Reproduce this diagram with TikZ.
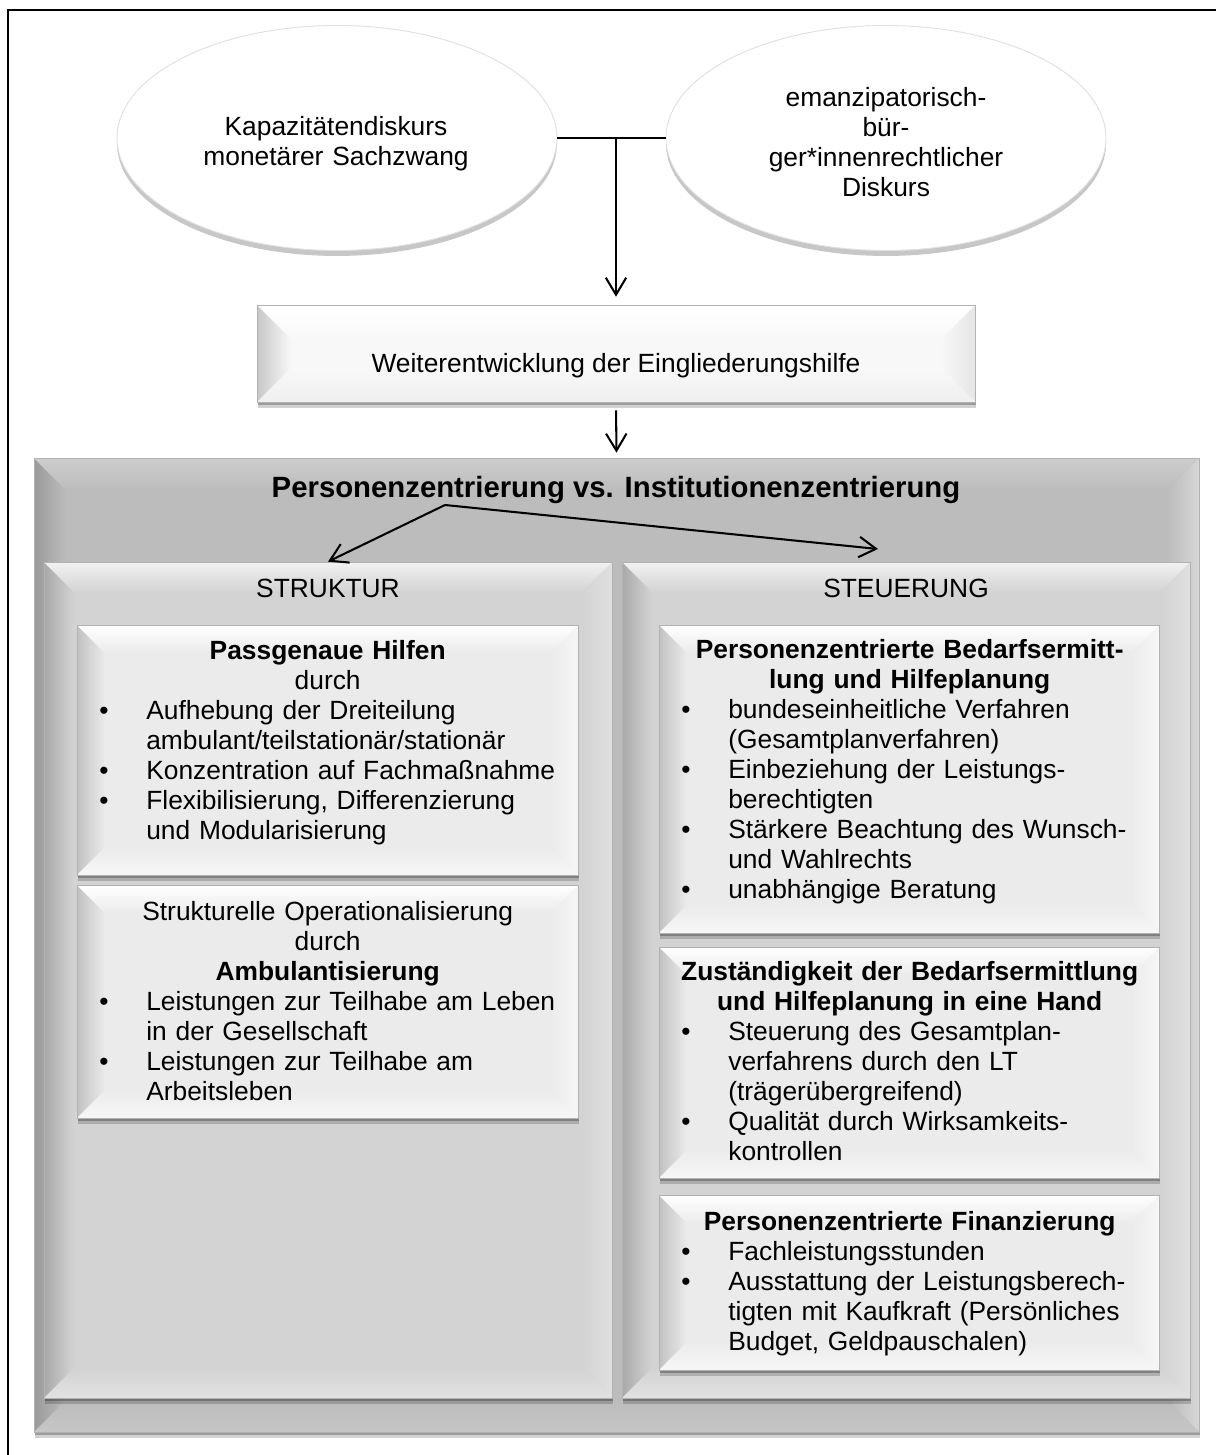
\documentclass[tikz,border=0pt]{standalone}
\usepackage{fontspec}
\setmainfont{Liberation Sans}
\usetikzlibrary{shapes.geometric,arrows.meta,shadows,fit}

% bevel colours: face / top / left / right / bottom
\definecolor{wFace}{HTML}{F8F8F8}\definecolor{wTop}{HTML}{FFFFFF}
\definecolor{wLeft}{HTML}{C8C8C8}\definecolor{wRight}{HTML}{E6E6E6}\definecolor{wBot}{HTML}{EFEFEF}
\definecolor{gFace}{HTML}{BCBCBC}\definecolor{gTop}{HTML}{CDCDCD}
\definecolor{gLeft}{HTML}{9A9A9A}\definecolor{gRight}{HTML}{D6D6D6}\definecolor{gBot}{HTML}{C6C6C6}
\definecolor{cFace}{HTML}{D3D3D3}\definecolor{cTop}{HTML}{F2F2F2}
\definecolor{cLeft}{HTML}{A9A9A9}\definecolor{cRight}{HTML}{E0E0E0}\definecolor{cBot}{HTML}{E2E2E2}
\definecolor{iFace}{HTML}{EBEBEB}\definecolor{iTop}{HTML}{FFFFFF}
\definecolor{iLeft}{HTML}{C2C2C2}\definecolor{iRight}{HTML}{F6F6F6}\definecolor{iBot}{HTML}{F7F7F7}

\pgfdeclareradialshading{ovalshade}{\pgfpoint{5bp}{9bp}}{%
  color(0bp)=(white); color(30bp)=(white); color(40bp)=(black!4);
  color(46bp)=(black!11); color(50bp)=(black!24)}

% four bevel faces painted inside a rectangular node
\newcommand\bevelpaint[6]{%
  \coordinate (pNW) at (path picture bounding box.north west);
  \coordinate (pNE) at (path picture bounding box.north east);
  \coordinate (pSW) at (path picture bounding box.south west);
  \coordinate (pSE) at (path picture bounding box.south east);
  \shade[left color=#4, right color=#2] (pNW) -- ([shift={(#1,-#1)}]pNW)
     -- ([shift={(#1,#1)}]pSW) -- (pSW) -- cycle;
  \shade[left color=#2, right color=#5] (pNE) -- (pSE)
     -- ([shift={(-#1,#1)}]pSE) -- ([shift={(-#1,-#1)}]pNE) -- cycle;
  \shade[top color=#3, bottom color=#2] (pNW) -- (pNE)
     -- ([shift={(-#1,-#1)}]pNE) -- ([shift={(#1,-#1)}]pNW) -- cycle;
  \shade[top color=#2, bottom color=#6] (pSW) -- ([shift={(#1,#1)}]pSW)
     -- ([shift={(-#1,#1)}]pSE) -- (pSE) -- cycle;
}

% bullet list with a fixed hanging indent
\newenvironment{pointlist}{%
  \list{\textbullet}{%
    \setlength\leftmargin{30.3pt}\setlength\labelsep{0pt}%
    \setlength\labelwidth{30.3pt}\setlength\itemindent{0pt}%
    \setlength\itemsep{0pt}\setlength\parsep{0pt}%
    \setlength\topsep{0pt}\setlength\partopsep{0pt}%
    \def\makelabel##1{\hbox to \labelwidth{\hspace{9.6pt}##1\hfil}}}%
  \raggedright}{\endlist}

\newcommand\bodyfont{\fontsize{11.6}{13.2}\selectfont}

\tikzset{
  bevel/.style n args={6}{rectangle, inner sep=0pt, fill=#2, draw=black!30,
    line width=0.3pt, path picture={\bevelpaint{#1}{#2}{#3}{#4}{#5}{#6}}},
  boxshadow/.style={drop shadow={shadow xshift=0.5pt, shadow yshift=-2.6pt,
    opacity=0.18, fill=black}, drop shadow={shadow xshift=0.3pt,
    shadow yshift=-1.4pt, opacity=0.25, fill=black}},
  wbox/.style={bevel={15pt}{wFace}{wTop}{wLeft}{wRight}{wBot}, boxshadow},
  gbox/.style={bevel={14pt}{gFace}{gTop}{gLeft}{gRight}{gBot}, boxshadow},
  cbox/.style={bevel={13pt}{cFace}{cTop}{cLeft}{cRight}{cBot}, boxshadow},
  ibox/.style={bevel={12.3pt}{iFace}{iTop}{iLeft}{iRight}{iBot}, boxshadow},
  oval/.style={ellipse, inner sep=0pt, minimum width=193.6pt,
    minimum height=99pt, shade, shading=ovalshade, draw=black!12,
    line width=0.4pt, drop shadow={shadow xshift=0pt, shadow yshift=-2.4pt,
    opacity=0.22, fill=black}},
  ovaltext/.style={anchor=base, inner sep=0pt, text width=190pt,
    align=center, font=\bodyfont},
  label/.style={anchor=base, inner sep=0pt, font=\bodyfont},
  boxtext/.style={anchor=base west, inner sep=0pt, text width=220.2pt,
    font=\bodyfont},
  conn/.style={line width=0.9pt,
    -{Straight Barb[length=7.5pt,width=9pt,line width=0.9pt]}},
  plain/.style={line width=0.9pt}
}

\begin{document}
\begin{tikzpicture}[x=0.44pt, y=-0.44pt]
\useasboundingbox (0,0) rectangle (1216,1455);
\fill[white] (0,0) rectangle (1216,1455);
% page frame: only its top and left edges lie inside the sheet
\draw[line width=0.9pt] (8,1455) -- (8,10) -- (1216,10);

% two discourses
\node[oval] (oval1) at (337,138) {};
\node[oval] (oval2) at (886,138) {};
\node[ovaltext] (oval1txt) at (336,136) {Kapazitätendiskurs\\monetärer Sachzwang};
\node[ovaltext] (oval2txt) at (886,107)
  {emanzipatorisch-\\bür-\\ger*innenrechtlicher\\Diskurs};

% development of integration assistance
\node[wbox, fit={(257,305) (975,402)}] (wbox) {};
\node[label] (wtxt) at (616,372) {Weiterentwicklung der Eingliederungshilfe};

% large frame with the two columns
\node[gbox, fit={(34,458) (1199,1432)}] (bigbox) {};
\node[label, font=\bfseries\fontsize{12.9}{15}\selectfont] (title) at (616,497)
  {Personenzentrierung vs. Institutionenzentrierung};

\node[cbox, fit={(44,562) (612,1398)}] (strukbox) {};
\node[cbox, fit={(622,562) (1190,1398)}] (steuerbox) {};
\node[label] (struktxt) at (328,597) {STRUKTUR};
\node[label] (steuertxt) at (906,597) {STEUERUNG};

% STRUKTUR column
\node[ibox, fit={(77,625) (578,875)}] (boxA) {};
\node[ibox, fit={(77,885) (578,1118)}] (boxB) {};
\node[boxtext] (txtA) at (77,659) {\centering\textbf{Passgenaue Hilfen}\\durch\par
  \begin{pointlist}
  \item Aufhebung der Dreiteilung\\ambulant/teilstationär/stationär
  \item Konzentration auf Fachmaßnahme
  \item Flexibilisierung, Differenzierung\\und Modularisierung
  \end{pointlist}};
\node[boxtext] (txtB) at (77,920) {\centering Strukturelle Operationalisierung\\durch\\\textbf{Ambulantisierung}\par
  \begin{pointlist}
  \item Leistungen zur Teilhabe am Leben\\in der Gesellschaft
  \item Leistungen zur Teilhabe am\\Arbeitsleben
  \end{pointlist}};

% STEUERUNG column
\node[ibox, fit={(659,625) (1159,933)}] (boxC) {};
\node[ibox, fit={(659,947) (1159,1178)}] (boxD) {};
\node[ibox, fit={(659,1195) (1159,1370)}] (boxE) {};
\node[boxtext] (txtC) at (659,658) {\centering{\bfseries Personenzentrierte Bedarfsermitt-\\lung und Hilfeplanung\par}
  \begin{pointlist}
  \item bundeseinheitliche Verfahren\\(Gesamtplanverfahren)
  \item Einbeziehung der Leistungs-\\berechtigten
  \item Stärkere Beachtung des Wunsch-\\und Wahlrechts
  \item unabhängige Beratung
  \end{pointlist}};
\node[boxtext] (txtD) at (659,980) {\centering{\bfseries Zuständigkeit der Bedarfsermittlung\\und Hilfeplanung in eine Hand\par}
  \begin{pointlist}
  \item Steuerung des Gesamtplan-\\verfahrens durch den LT\\(trägerübergreifend)
  \item Qualität durch Wirksamkeits-\\kontrollen
  \end{pointlist}};
\node[boxtext] (txtE) at (659,1230) {\centering{\bfseries Personenzentrierte Finanzierung\par}
  \begin{pointlist}
  \item Fachleistungsstunden
  \item Ausstattung der Leistungsberech-\\tigten mit Kaufkraft (Persönliches\\Budget, Geldpauschalen)
  \end{pointlist}};

% connectors
\coordinate (junc) at (616,138);
\coordinate (fork) at (445,505);
\coordinate (steuertip) at (878,549);
\draw[plain] (oval1.east) -- (oval2.west);
\draw[conn, shorten >=3.5pt] (junc) -- (wbox.north);
\draw[conn, shorten <=3.5pt, shorten >=2.2pt] (wbox.south) -- (bigbox.north);
\draw[conn] (fork) -- (strukbox.north);
\draw[conn] (fork) -- (steuertip);
\end{tikzpicture}
\end{document}
